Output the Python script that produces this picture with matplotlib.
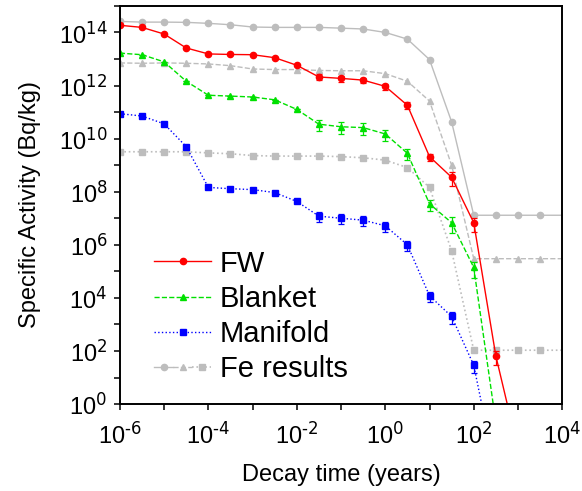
import numpy as np
import matplotlib
matplotlib.use("Agg")
import matplotlib.pyplot as plt
from matplotlib.ticker import FixedLocator, FuncFormatter, NullLocator
from matplotlib.legend_handler import HandlerTuple

plt.rcParams['font.family'] = ['Liberation Sans', 'DejaVu Sans']
plt.rcParams['mathtext.default'] = 'regular'
plt.rcParams['axes.unicode_minus'] = False

# decay times (years), half-decade steps
times = [1e-6, 3.16e-6, 1e-5, 3.16e-5, 1e-4, 3.16e-4, 1e-3, 3.16e-3, 1e-2, 3.16e-2,
         0.1, 0.316, 1, 3.16, 10, 31.6, 100, 316, 1000, 3160, 10000]

fw = [1.86e14, 1.55e14, 8.7e13, 2.6e13, 1.55e13, 1.48e13, 1.45e13, 1.12e13, 5.8e12, 2.1e12,
      1.86e12, 1.6e12, 9.3e11, 1.8e11, 2.1e9, 3.5e8, 6.8e6, 65, 0.02]
fw_err = [0, 0, 0, 0, 0, 0, 0, 0, 0, 0.25,
          0.25, 0.25, 0.25, 0.3, 0.3, 0.55, 0.55, 0.55, 0]

blanket = [1.66e13, 1.45e13, 7.8e12, 1.45e12, 4.3e11, 4.0e11, 3.7e11, 2.9e11, 1.26e11, 3.5e10,
           2.8e10, 2.6e10, 1.5e10, 2.8e9, 3.5e7, 6.8e6, 1.4e5, 0.2]
blanket_err = [0, 0, 0, 0, 0, 0, 0, 0, 0, 0.45,
               0.45, 0.45, 0.45, 0.45, 0.45, 0.6, 0.6, 0]

manifold = [8.7e10, 7.1e10, 3.6e10, 5.0e9, 1.45e8, 1.3e8, 1.2e8, 9.3e7, 4.3e7, 1.2e7,
            1.0e7, 8.5e6, 5.2e6, 1.0e6, 1.2e4, 2.0e3, 29, 0.0025]
manifold_err = [0, 0, 0, 0, 0, 0, 0, 0, 0, 0.4,
                0.4, 0.4, 0.4, 0.4, 0.4, 0.5, 0.5, 0]

fe_fw = [2.6e14, 2.45e14, 2.45e14, 2.4e14, 2.2e14, 1.95e14, 1.6e14, 1.55e14, 1.55e14, 1.55e14,
         1.45e14, 1.35e14, 1.0e14, 5.6e13, 9.5e12, 4.3e10, 1.3e7, 1.3e7, 1.3e7, 1.3e7, 1.3e7]
fe_blanket = [7.1e12, 6.9e12, 7.1e12, 6.9e12, 6.5e12, 5.6e12, 4.2e12, 4.0e12, 4.0e12, 3.7e12,
              3.6e12, 3.6e12, 2.8e12, 1.45e12, 2.6e11, 1.0e9, 3.0e5, 3.0e5, 3.0e5, 3.0e5, 3.0e5]
fe_manifold = [3.2e9, 3.2e9, 3.2e9, 3.2e9, 2.9e9, 2.7e9, 2.3e9, 2.2e9, 2.2e9, 2.2e9,
               2.1e9, 1.9e9, 1.55e9, 8.1e8, 1.45e8, 6.0e5, 107, 107, 107, 107, 107]

gray = '#bdbdbd'

fig = plt.figure(figsize=(5.82, 4.91), dpi=100)
ax = fig.add_axes([0.206, 0.177, 0.76, 0.811])

# Fe reference results in the background
l_fe1, = ax.plot(times, fe_fw, '-', color=gray, lw=1.0, marker='o', ms=4.5,
                 markevery=slice(0, -1))
l_fe2, = ax.plot(times, fe_blanket, '--', color=gray, lw=1.0, marker='^', ms=4.5,
                 markevery=slice(0, -1))
l_fe3, = ax.plot(times, fe_manifold, ':', color=gray, lw=1.2, marker='s', ms=4.5,
                 markevery=slice(0, -1))


def draw(vals, errs, color, ls, marker, ms):
    t = np.array(times[:len(vals)])
    v = np.array(vals)
    e = np.array(errs) * v
    ax.errorbar(t, v, yerr=[e, e], fmt='none', ecolor=color, capsize=2.5,
                elinewidth=0.9, capthick=0.9)
    line, = ax.plot(t, v, color=color, ls=ls, lw=1.0, marker=marker, ms=ms)
    return line


h_fw = draw(fw, fw_err, '#ff0000', '-', 'o', 4.5)
h_bl = draw(blanket, blanket_err, '#00e000', '--', '^', 4.5)
h_mf = draw(manifold, manifold_err, '#0000ff', ':', 's', 4.5)

ax.set_xscale('log')
ax.set_yscale('log')
ax.set_xlim(1e-6, 1e4)
ax.set_ylim(1, 1e15)

ax.xaxis.set_major_locator(FixedLocator([10.0 ** k for k in range(-6, 5)]))
ax.yaxis.set_major_locator(FixedLocator([10.0 ** k for k in range(0, 16)]))
ax.xaxis.set_minor_locator(NullLocator())
ax.yaxis.set_minor_locator(NullLocator())


def even_fmt(v, pos):
    k = int(round(np.log10(v)))
    if k % 2:
        return ''
    return '$10^{\\text{' + str(k) + '}}$'


ax.xaxis.set_major_formatter(FuncFormatter(even_fmt))
ax.yaxis.set_major_formatter(FuncFormatter(even_fmt))
ax.tick_params(direction='out', length=4, width=1.1, labelsize=17)
ax.tick_params(axis='x', pad=9)
ax.tick_params(axis='y', pad=5)

for s in ax.spines.values():
    s.set_linewidth(1.4)

ax.set_xlabel('Decay time (years)', fontsize=17, labelpad=11)
ax.set_ylabel('Specific Activity (Bq/kg)', fontsize=17, labelpad=13)

leg = ax.legend([h_fw, h_bl, h_mf, (l_fe1, l_fe2, l_fe3)],
                ['FW', 'Blanket', 'Manifold', 'Fe results'],
                handler_map={tuple: HandlerTuple(ndivide=None, pad=0)},
                loc='lower left', bbox_to_anchor=(0.078, 0.052), frameon=False,
                fontsize=21, handlelength=1.95, handletextpad=0.3, labelspacing=0.25,
                borderpad=0, borderaxespad=0, numpoints=1)

fig.savefig('out.png', dpi=100)
